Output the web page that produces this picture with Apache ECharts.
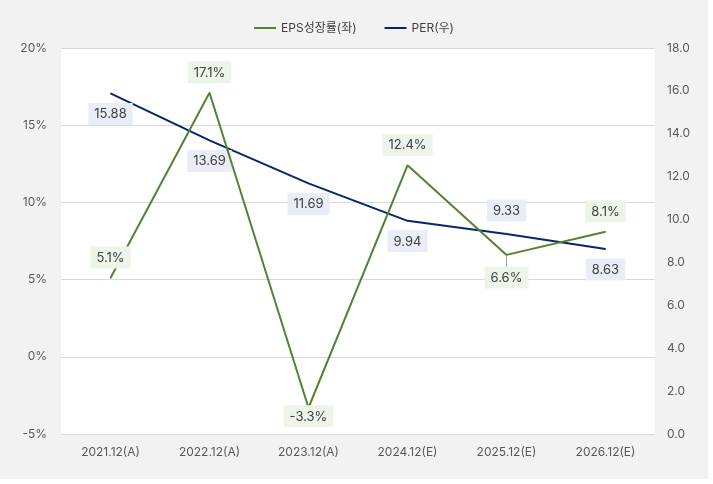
<!DOCTYPE html>
<html><head><meta charset="utf-8">
<script src="https://cdn.jsdelivr.net/npm/echarts@6/dist/echarts.min.js"></script>
<style>html,body{margin:0;padding:0;background:#fff;}#c{width:708px;height:479px;}</style>
</head><body><div id="c"></div>
<script>
const categories = ['2021.12(A)','2022.12(A)','2023.12(A)','2024.12(E)','2025.12(E)','2026.12(E)'];
const epsGrowth = [5.1, 17.1, -3.3, 12.4, 6.6, 8.1];
const per = [15.88, 13.69, 11.69, 9.94, 9.33, 8.63];
const epsLabelPos = ['top','top','bottom','top','bottom','top'];
const perLabelPos = ['bottom','bottom','bottom','bottom','top','bottom'];
const epsLabelDist = [9, 9, -3, 9, 11, 9];
const perLabelDist = [9, 9, 9, 9, 12, 9];
const epsLabelLine = [false,false,false,false,true,false];
const perLabelLine = [false,false,false,false,true,false];
const FONT = "Inter, 'Noto Sans CJK KR', sans-serif";
const GREEN = '#548235', NAVY = '#0a2468';
const chart = echarts.init(document.getElementById('c'));
function lbl(bg, fmt) {
  return {show:true, color:'#404040', fontSize:13, fontFamily:FONT, backgroundColor:bg, padding:[5,6,4,6], formatter:fmt};
}
function item(v, pos, dist, line) {
  const o = {value:v, label:{position:pos, distance:dist}};
  if (line) { o.labelLine = {show:true, lineStyle:{color:'#a6a6a6', width:1}}; }
  return o;
}
chart.setOption({
  backgroundColor:'#f2f2f2',
  textStyle:{fontFamily:FONT},
  legend:{top:17, left:'center', itemGap:28, itemWidth:22, itemHeight:2,
    textStyle:{color:'#404040', fontSize:12, fontFamily:FONT},
    data:[{name:'EPS성장률(좌)', icon:'rect'},{name:'PER(우)', icon:'rect'}]},
  grid:{left:61, right:53, top:48, bottom:45, show:true, backgroundColor:'#fff', borderWidth:0},
  xAxis:{type:'category', data:categories, boundaryGap:true,
    axisLine:{show:true, lineStyle:{color:'#d9d9d9'}}, axisTick:{show:false},
    axisLabel:{color:'#595959', fontSize:12, margin:12, fontFamily:FONT}},
  yAxis:[
    {type:'value', min:-5, max:20, interval:5, position:'left',
      axisLabel:{formatter:v=>v+'%', color:'#595959', fontSize:12, margin:14, fontFamily:FONT},
      splitLine:{lineStyle:{color:'#d9d9d9'}}, axisLine:{show:false}, axisTick:{show:false}},
    {type:'value', min:0, max:18, interval:2, position:'right',
      axisLabel:{formatter:v=>v.toFixed(1), color:'#595959', fontSize:12, margin:12, fontFamily:FONT},
      splitLine:{show:false}, axisLine:{show:false}, axisTick:{show:false}}
  ],
  series:[
    {name:'EPS성장률(좌)', type:'line', yAxisIndex:0, color:GREEN, symbol:'circle', symbolSize:1, showSymbol:true,
      itemStyle:{color:GREEN}, lineStyle:{width:2, color:GREEN},
      data: epsGrowth.map((v,i)=>item(v, epsLabelPos[i], epsLabelDist[i], epsLabelLine[i])),
      label: lbl('#edf5e8', p=>Number(p.value).toFixed(1)+'%'), z:3},
    {name:'PER(우)', type:'line', yAxisIndex:1, color:NAVY, symbol:'circle', symbolSize:1, showSymbol:true,
      itemStyle:{color:NAVY}, lineStyle:{width:2, color:NAVY},
      data: per.map((v,i)=>item(v, perLabelPos[i], perLabelDist[i], perLabelLine[i])),
      label: lbl('#e9edf7', p=>Number(p.value).toFixed(2)), z:2}
  ]
});
</script></body></html>
